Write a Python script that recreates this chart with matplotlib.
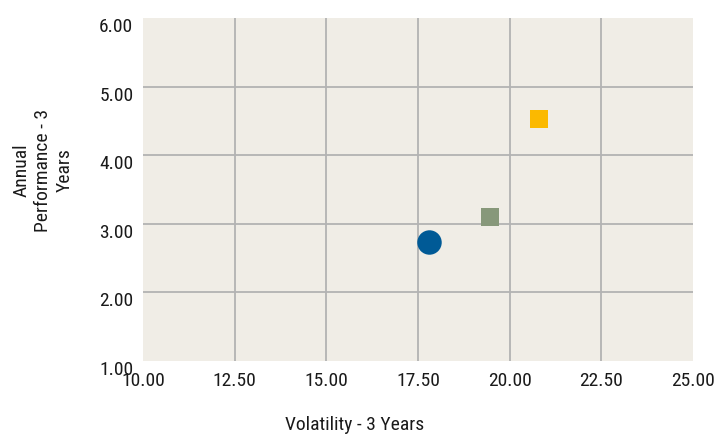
import matplotlib.pyplot as plt
import matplotlib.transforms as mtransforms

# scatter values
names = ['Fund', 'Index', 'Peer']
volatility = [17.81, 19.46, 20.80]
performance = [2.73, 3.10, 4.53]
colors = ['#005a96', '#87987a', '#fbb900']
markers = ['o', 's', 's']
sizes = [310, 150, 150]

x_ticks = [10.0, 12.5, 15.0, 17.5, 20.0, 22.5, 25.0]
y_ticks = [1.0, 2.0, 3.0, 4.0, 5.0, 6.0]

plt.rcParams['font.family'] = ['Roboto Condensed', 'Archivo Narrow', 'DejaVu Sans']
txt_color = '#1a1a1a'
fs = 14

fig = plt.figure(figsize=(7.17, 4.36), dpi=100)
ax = fig.add_axes([143/717, 1 - 361/436, 550/717, 343/436])
ax.set_facecolor('#f0ede6')

for i in range(len(names)):
    ax.scatter(volatility[i], performance[i], s=sizes[i], c=colors[i],
               marker=markers[i], linewidths=0, zorder=3)

ax.set_xlim(10, 25)
ax.set_ylim(1, 6)
ax.set_xticks(x_ticks)
ax.set_yticks(y_ticks)
ax.set_xticklabels(['%.2f' % v for v in x_ticks], fontsize=fs, color=txt_color)
ax.set_yticklabels(['%.2f' % v for v in y_ticks], fontsize=fs, color=txt_color)
ax.tick_params(length=0)
ax.tick_params(axis='x', pad=8)
ax.tick_params(axis='y', pad=7)
shift = mtransforms.ScaledTranslation(0, -5/72, fig.dpi_scale_trans)
for lbl in ax.get_yticklabels():
    lbl.set_transform(lbl.get_transform() + shift)

ax.grid(True, color='#b3b3b3', linewidth=1.3)
ax.set_axisbelow(True)
# no grid lines on the outer edges
for gl in (ax.xaxis.get_gridlines()[0], ax.xaxis.get_gridlines()[-1],
           ax.yaxis.get_gridlines()[0], ax.yaxis.get_gridlines()[-1]):
    gl.set_visible(False)
for s in ax.spines.values():
    s.set_visible(False)

fig.text(355/717, 1 - 425/436, 'Volatility - 3 Years', ha='center', va='center',
         fontsize=fs, color=txt_color)
fig.text(43/717, 1 - 170/436, 'Annual\nPerformance - 3\nYears', ha='center', va='center',
         rotation=90, fontsize=fs, color=txt_color, linespacing=1.25, multialignment='center')

fig.savefig('out.png', dpi=100)
